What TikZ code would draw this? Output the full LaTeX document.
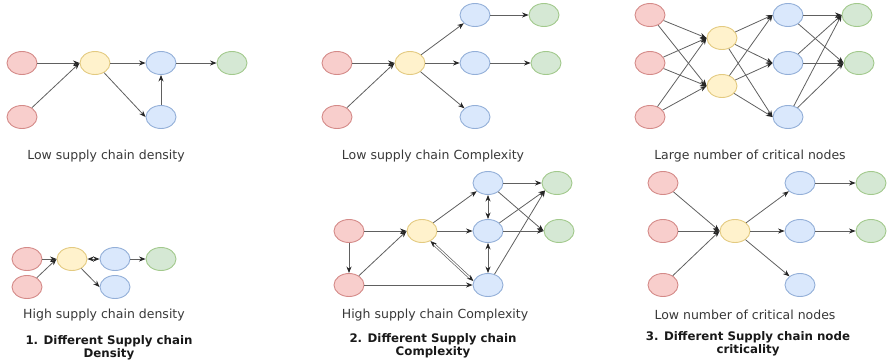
\documentclass[tikz,border=0pt]{standalone}
\usepackage{fontspec}
\setmainfont{DejaVu Sans}
\usetikzlibrary{arrows.meta,shapes.geometric}
\definecolor{rf}{HTML}{F8CECC}\definecolor{rd}{HTML}{D48A88}
\definecolor{yf}{HTML}{FFF2CC}\definecolor{yd}{HTML}{E3CA80}
\definecolor{bf}{HTML}{DAE8FC}\definecolor{bd}{HTML}{93AFD8}
\definecolor{gf}{HTML}{D5E8D4}\definecolor{gd}{HTML}{A2C98C}
\definecolor{edgec}{HTML}{606060}
\begin{document}
\begin{tikzpicture}[x=1pt,y=-1pt,
  nd/.style={ellipse,minimum width=30pt,minimum height=23pt,inner sep=0pt,line width=0.9pt},
  rn/.style={nd,fill=rf,draw=rd},
  yn/.style={nd,fill=yf,draw=yd},
  bn/.style={nd,fill=bf,draw=bd},
  gn/.style={nd,fill=gf,draw=gd},
  tp/.style={Stealth[length=6.5pt,width=5pt,color=black!85]},
  ar/.style={draw=edgec,line width=0.8pt,-{Stealth[length=6.5pt,width=5pt,color=black!85]}},
  ba/.style={draw=edgec,line width=0.8pt,{Stealth[length=6.5pt,width=5pt,color=black!85]}-{Stealth[length=6.5pt,width=5pt,color=black!85]}},
  lbl/.style={font=\fontsize{12.5}{15}\selectfont,text=black!78},
  ttl/.style={font=\bfseries\fontsize{11.8}{13.5}\selectfont,align=center,text=black!90}]
\useasboundingbox (0,0) rectangle (888,362);
% ---------- Panel 1
\node[rn] (a1) at (22,63) {};
\node[rn] (a2) at (22,117) {};
\node[yn] (ay) at (95,63) {};
\node[bn] (ab1) at (161,63) {};
\node[bn] (ab2) at (161,117) {};
\node[gn] (ag) at (232,63) {};
\draw[ar] (a1) -- (ay.west);
\draw[ar] (a2) -- (ay.west);
\draw[ar] (ay) -- (ab1);
\draw[ar] (ay) -- (ab2.west);
\draw[ar] (ab2) -- (ab1);
\draw[ar] (ab1) -- (ag);
\node[lbl] (al) at (106,156) {Low supply chain density};
% ---------- Panel 2
\node[rn] (c1) at (337,63) {};
\node[rn] (c2) at (337,117) {};
\node[yn] (cy) at (410,63) {};
\node[bn] (cb1) at (475,15) {};
\node[bn] (cb2) at (475,63) {};
\node[bn] (cb3) at (475,117) {};
\node[gn] (cg1) at (544,15) {};
\node[gn] (cg2) at (546,63) {};
\draw[ar] (c1) -- (cy.west);
\draw[ar] (c2) -- (cy.west);
\draw[ar] (cy) -- (cb1);
\draw[ar] (cy) -- (cb2);
\draw[ar] (cy) -- (cb3);
\draw[ar] (cb1) -- (cg1);
\draw[ar] (cb2) -- (cg2);
\node[lbl] (cl) at (433,156) {Low supply chain Complexity};
% ---------- Panel 3
\node[rn] (e1) at (650,15) {};
\node[rn] (e2) at (650,63) {};
\node[rn] (e3) at (650,117) {};
\node[yn] (ey1) at (722,38) {};
\node[yn] (ey2) at (722,86) {};
\node[bn] (eb1) at (788,15) {};
\node[bn] (eb2) at (788,63) {};
\node[bn] (eb3) at (788,117) {};
\node[gn] (eg1) at (857,15) {};
\node[gn] (eg2) at (859,63) {};
\foreach \s in {e1,e2,e3}{\foreach \t in {ey1,ey2}{\draw[ar] (\s) -- (\t.west);}}
\foreach \s in {ey1,ey2}{\foreach \t in {eb1,eb2,eb3}{\draw[ar] (\s) -- (\t.west);}}
\foreach \s in {eb1,eb2,eb3}{\foreach \t in {eg1,eg2}{\draw[ar] (\s) -- (\t.west);}}
\node[lbl] (el) at (750,156) {Large number of critical nodes};
% ---------- Panel 4
\node[rn] (d1) at (27,259) {};
\node[rn] (d2) at (27,287) {};
\node[yn] (dy) at (72,259) {};
\node[bn] (db1) at (115,259) {};
\node[bn] (db2) at (115,287) {};
\node[gn] (dg) at (161,259) {};
\draw[ar] (d1) -- (dy.west);
\draw[ar] (d2) -- (dy.west);
\draw[ba] (dy) -- (db1);
\draw[ar] (dy) -- (db2.west);
\draw[ar] (db1) -- (dg);
\node[lbl] (dl) at (104,315) {High supply chain density};
\node[ttl] (dt) at (109,348) {1. Different Supply chain\\Density};
% ---------- Panel 5
\node[rn] (f1) at (349,231) {};
\node[rn] (f2) at (349,285) {};
\node[yn] (fy) at (422,231) {};
\node[bn] (fb1) at (488,183) {};
\node[bn] (fb2) at (488,231) {};
\node[bn] (fb3) at (488,285) {};
\node[gn] (fg1) at (557,183) {};
\node[gn] (fg2) at (559,231) {};
\draw[ar] (f1) -- (fy.west);
\draw[ar] (f1) -- (f2);
\draw[ar] (f2) -- (fy.west);
\draw[ar] (f2) -- (fb3.west);
\draw[ar] (fy) -- (fb1);
\draw[ar] (fy) -- (fb2);
\draw[ba,double,double distance=1.2pt,line width=0.7pt] (fb3.165) -- (fy.-50);
\draw[ba] (fb1) -- (fb2);
\draw[ba] (fb2) -- (fb3);
\draw[ar] (fb1) -- (fg1.west);
\draw[ar] (fb1) -- (fg2.west);
\draw[ar] (fb2) -- (fg1.212);
\draw[ar] (fb2) -- (fg2.west);
\draw[ar] (fb3) -- (fg1.212);
\node[lbl] (fl) at (435,315) {High supply chain Complexity};
\node[ttl] (ft) at (433,346) {2. Different Supply chain\\Complexity};
% ---------- Panel 6
\node[rn] (h1) at (663,183) {};
\node[rn] (h2) at (663,231) {};
\node[rn] (h3) at (663,285) {};
\node[yn] (hy) at (735,231) {};
\node[bn] (hb1) at (800,183) {};
\node[bn] (hb2) at (800,231) {};
\node[bn] (hb3) at (800,285) {};
\node[gn] (hg1) at (871,183) {};
\node[gn] (hg2) at (871,231) {};
\draw[ar] (h1) -- (hy.west);
\draw[ar] (h2) -- (hy.west);
\draw[ar] (h3) -- (hy.west);
\draw[ar] (hy) -- (hb1);
\draw[ar] (hy) -- (hb2);
\draw[ar] (hy) -- (hb3);
\draw[ar] (hb1) -- (hg1);
\draw[ar] (hb2) -- (hg2);
\node[lbl] (hl) at (745,315) {Low number of critical nodes};
\node[ttl] (ht) at (748,344) {3. Different Supply chain node\\criticality};
\end{tikzpicture}
\end{document}
